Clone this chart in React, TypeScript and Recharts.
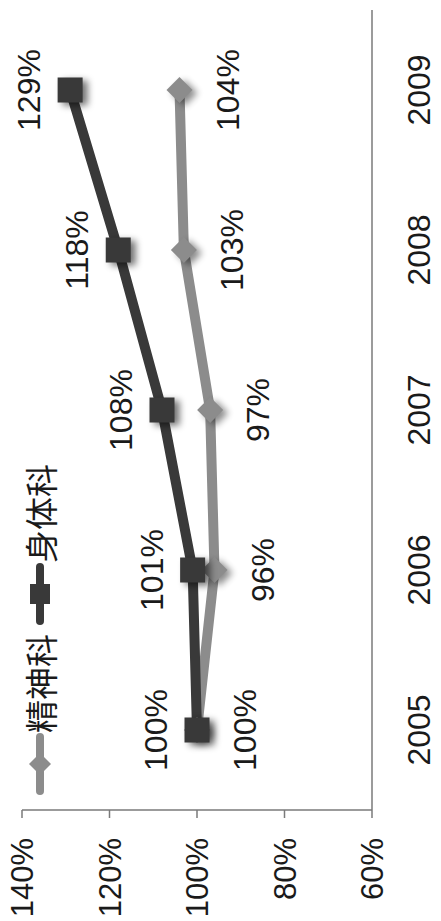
import React from 'react';
import { LineChart, Line, XAxis, YAxis, Legend, LabelList } from 'recharts';

const years = ['2005', '2006', '2007', '2008', '2009'];
const mentalValues = [100, 96, 97, 103, 104];
const physicalValues = [100, 101, 108, 118, 129];
const percentTicks = [60, 80, 100, 120, 140];

const MENTAL = '精神科';
const PHYSICAL = '身体科';

const data = years.map((year, i) => ({
  year,
  [MENTAL]: mentalValues[i],
  [PHYSICAL]: physicalValues[i],
}));

// tick marks sit between the categories, like the spreadsheet original
const bandEdges = [...years.map((_, i) => i), years.length];

const DARK = '#393939';
const LIGHT = '#8c8c8c';
const AXIS = '#7a7a7a';
const TEXT = '#1a1a1a';
const LATIN = '"Liberation Sans", Arial, sans-serif';
const CJK = '"Noto Sans CJK SC", "Noto Sans", sans-serif';

const W = 921;
const H = 441;

const SquareDot = (props: any) => {
  const { cx, cy, index } = props;
  if (cx == null || cy == null) return null;
  const s = 25;
  return (
    <g key={`sq-${index}`}>
      <rect x={cx - s / 2 - 3} y={cy - s / 2 + 5} width={s} height={s} fill="#000" opacity={0.55} filter="url(#markerShadow)" />
      <rect x={cx - s / 2} y={cy - s / 2} width={s} height={s} fill={DARK} />
    </g>
  );
};

const diamondPoints = (cx: number, cy: number, r: number) =>
  `${cx},${cy - r} ${cx + r},${cy} ${cx},${cy + r} ${cx - r},${cy}`;

const DiamondDot = (props: any) => {
  const { cx, cy, index } = props;
  if (cx == null || cy == null) return null;
  const r = 13;
  return (
    <g key={`di-${index}`}>
      <polygon points={diamondPoints(cx - 3, cy + 5, r)} fill="#000" opacity={0.45} filter="url(#markerShadow)" />
      <polygon points={diamondPoints(cx, cy, r)} fill={LIGHT} />
    </g>
  );
};

const labelAbove = (p: any) => (
  <text x={p.x} y={p.y - 30} textAnchor="middle" fill={TEXT} fontSize={32} fontFamily={LATIN}>
    {`${p.value}%`}
  </text>
);

const labelBelow = (p: any) => (
  <text x={p.x} y={p.y + 59} textAnchor="middle" fill={TEXT} fontSize={32} fontFamily={LATIN}>
    {`${p.value}%`}
  </text>
);

const LegendIcon = ({ name, color }: { name: string; color: string }) => (
  <svg width={62} height={30} style={{ display: 'block' }}>
    <line x1={4} y1={15} x2={58} y2={15} stroke={color} strokeWidth={8} strokeLinecap="round" />
    {name === PHYSICAL ? (
      <rect x={21} y={5} width={20} height={20} fill={color} />
    ) : (
      <polygon points={diamondPoints(31, 15, 11)} fill={color} />
    )}
  </svg>
);

const LegendContent = (props: any) => {
  const { payload = [] } = props;
  return (
    <div style={{ display: 'flex', alignItems: 'center' }}>
      {payload.map((entry: any) => (
        <div key={entry.value} style={{ display: 'flex', alignItems: 'center', marginRight: 9 }}>
          <LegendIcon name={entry.value} color={entry.color} />
          <span style={{ fontSize: 33, lineHeight: '40px', fontFamily: CJK, color: TEXT }}>
            {entry.value}
          </span>
        </div>
      ))}
    </div>
  );
};

const App = () => (
  <div style={{ position: 'absolute', top: 0, left: 0, width: H, height: W, overflow: 'hidden', background: '#fff' }}>
    <div
      style={{
        width: W,
        height: H,
        transformOrigin: '0 0',
        transform: `translateY(${W}px) rotate(-90deg)`,
      }}
    >
      <LineChart width={W} height={H} data={data} margin={{ top: 22, right: 10, bottom: 0, left: 0 }}>
        <defs>
          <filter id="markerShadow" x="-50%" y="-50%" width="200%" height="200%">
            <feGaussianBlur stdDeviation="3.5" />
          </filter>
        </defs>
        <XAxis
          xAxisId="edge"
          type="number"
          domain={[0, years.length]}
          ticks={bandEdges}
          allowDataOverflow
          tick={false}
          axisLine={false}
          tickLine={{ stroke: AXIS, strokeWidth: 1.5 }}
          tickSize={8}
          height={0}
        />
        <XAxis
          xAxisId="cat"
          dataKey="year"
          scale="band"
          tickLine={false}
          axisLine={{ stroke: AXIS, strokeWidth: 1.5 }}
          tick={{ fill: TEXT, fontSize: 32, fontFamily: LATIN }}
          tickSize={8}
          tickMargin={27}
          height={69}
          interval={0}
        />
        <YAxis
          domain={[60, 140]}
          ticks={percentTicks}
          tickFormatter={(v: number) => `${v}%`}
          axisLine={{ stroke: AXIS, strokeWidth: 1.5 }}
          tickLine={{ stroke: AXIS, strokeWidth: 1.5 }}
          tick={{ fill: TEXT, fontSize: 31, fontFamily: LATIN }}
          tickSize={8}
          tickMargin={20}
          width={111}
        />
        <Legend
          layout="horizontal"
          verticalAlign="middle"
          align="center"
          content={LegendContent}
          wrapperStyle={{ top: 20, left: 126, width: 'auto' }}
        />
        <Line
          xAxisId="cat"
          dataKey={MENTAL}
          name={MENTAL}
          stroke={LIGHT}
          strokeWidth={10}
          dot={DiamondDot}
          activeDot={false}
          isAnimationActive={false}
        >
          <LabelList dataKey={MENTAL} content={labelBelow} />
        </Line>
        <Line
          xAxisId="cat"
          dataKey={PHYSICAL}
          name={PHYSICAL}
          stroke={DARK}
          strokeWidth={10}
          dot={SquareDot}
          activeDot={false}
          isAnimationActive={false}
        >
          <LabelList dataKey={PHYSICAL} content={labelAbove} />
        </Line>
      </LineChart>
    </div>
  </div>
);

export default App;
